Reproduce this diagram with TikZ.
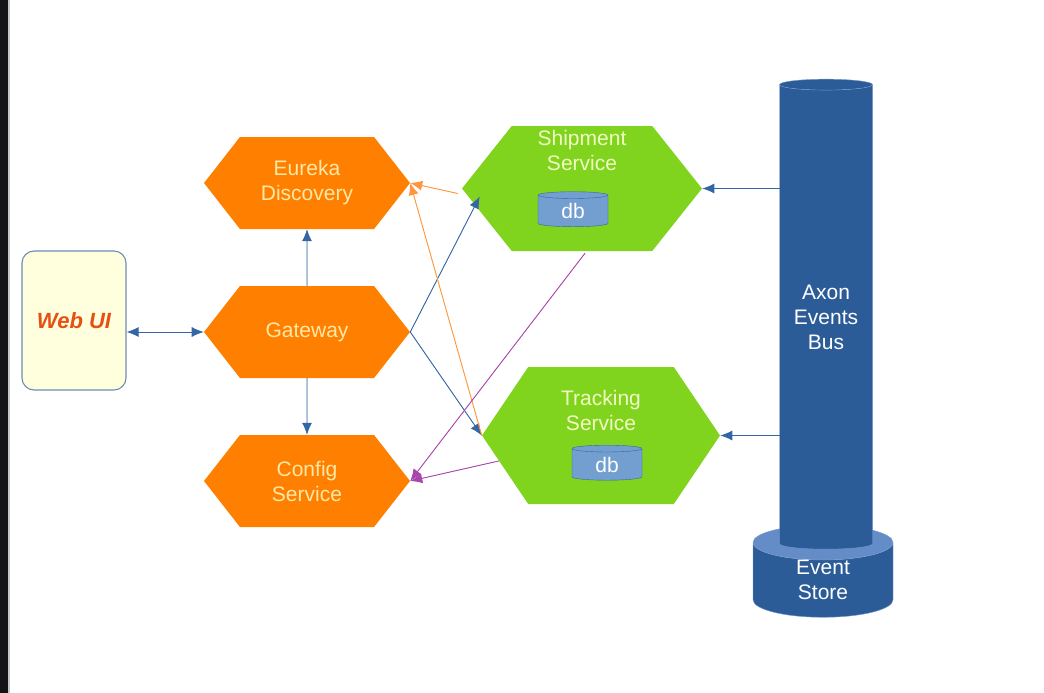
\documentclass[tikz,border=0pt]{standalone}
\usepackage{fontspec}
\setmainfont{Liberation Sans}
\usetikzlibrary{shapes.symbols,shapes.geometric,arrows.meta}
\definecolor{infraorange}{RGB}{255,128,0}
\definecolor{infratext}{RGB}{255,232,165}
\definecolor{servicegreen}{RGB}{128,212,30}
\definecolor{servicetext}{RGB}{242,250,195}
\definecolor{busblue}{RGB}{44,92,152}
\definecolor{busrim}{RGB}{120,155,205}
\definecolor{storetop}{RGB}{100,140,198}
\definecolor{dbfill}{RGB}{114,159,207}
\definecolor{linkblue}{RGB}{52,101,164}
\definecolor{webrim}{RGB}{110,140,180}
\definecolor{regorange}{RGB}{255,150,60}
\definecolor{cfgpurple}{RGB}{170,70,170}
\definecolor{webfill}{RGB}{255,255,221}
\definecolor{webtext}{RGB}{230,80,20}
\definecolor{frame}{RGB}{18,20,24}

\begin{document}
\begin{tikzpicture}[x=1pt,y=-1pt,>={Latex[length=12pt,width=10pt]}]
\tikzstyle{hex} = [signal, signal to=east and west, inner sep=0pt,
            font=\fontsize{21}{25}\selectfont, align=center];
\tikzstyle{infrahex} = [hex, fill=infraorange, text=infratext,
            minimum width=206pt, minimum height=92pt, signal pointer angle=104];
\tikzstyle{servicehex} = [hex, fill=servicegreen];
\tikzstyle{servicetxt} = [text=servicetext, font=\fontsize{21}{25}\selectfont, align=center];
\tikzstyle{db} = [cylinder, shape border rotate=90, aspect=0.29, draw=linkblue,
            fill=dbfill, text=white, minimum width=70pt, minimum height=35pt,
            inner sep=0pt, font=\fontsize{21}{25}\selectfont];
\tikzstyle{bus} = [cylinder, shape border rotate=90, draw=busrim, cylinder uses custom fill,
            cylinder body fill=busblue, text=white, inner sep=0pt, align=center,
            font=\fontsize{21}{25}\selectfont];
\tikzstyle{link} = [draw=linkblue, fill=linkblue, line width=0.9pt];
\tikzstyle{reg} = [draw=regorange, fill=regorange, line width=0.9pt];
\tikzstyle{cfg} = [draw=cfgpurple, fill=cfgpurple!70!black, line width=0.9pt];

    \useasboundingbox (0,0) rectangle (1044,693);
    \fill[frame] (0,0) rectangle (8,693);
    \fill[gray!45] (8,0) rectangle (10,693);

    \node (web) at (74,320.5) [draw=webrim, line width=1.1pt, fill=webfill,
        rounded corners=12pt, minimum width=104pt, minimum height=139pt, text=webtext,
        font=\fontsize{22}{26}\selectfont\bfseries\itshape] {Web UI};

    \node (eu) at (307,183) [infrahex] {Eureka\\Discovery};
    \node (gw) at (307,332) [infrahex] {Gateway};
    \node (cfg) at (307,481) [infrahex] {Config\\Service};

    \node (shp) at (582,188.5) [servicehex, minimum width=240pt,
        minimum height=125pt, signal pointer angle=103] {};
    \node (shptxt) at ([yshift=38pt]shp.center) [servicetxt] {Shipment\\Service};
    \node (shpdb) at ([shift={(-9,22.5)}]shp.center) [db] {db};

    \node (trk) at (601,435.5) [servicehex, minimum width=238pt,
        minimum height=137pt, signal pointer angle=112] {};
    \node (trktxt) at ([yshift=25pt]trk.center) [servicetxt] {Tracking\\Service};
    \node (trkdb) at ([shift={(6,29)}]trk.center) [db] {db};

    \node (store) at (823,580) [bus, cylinder end fill=storetop, aspect=0.65,
        minimum width=140pt, minimum height=88pt] {Event\\Store};
    \node (axon) at (826,317) [bus, cylinder end fill=busblue, aspect=0.17,
        minimum width=93pt, minimum height=470pt] {Axon\\Events\\Bus};

    \draw[link,<->] (web.east |- gw.west) -- (gw.west);
    \draw[link,->] (gw) -- (eu);
    \draw[link,->] (gw) -- (cfg);
    \draw[link,->] (gw.east) -- ([shift={(18,8)}]shp.west);
    \draw[link,->] (gw.east) -- (trk.west);
    \draw[reg,->] ([shift={(-4,5)}]shp.west) -- (eu.east);
    \draw[reg,->] (trk.west) -- (eu.east);
    \draw[cfg,->] ([shift={(3,2)}]shp.south) -- (cfg.east);
    \draw[cfg,->] (trk.194) -- (cfg.east);
    \draw[link,->] ([xshift=-46.5pt]axon.center |- shp.east) -- (shp.east);
    \draw[link,->] ([xshift=-46.5pt]axon.center |- trk.east) -- (trk.east);

\end{tikzpicture}
\end{document}
